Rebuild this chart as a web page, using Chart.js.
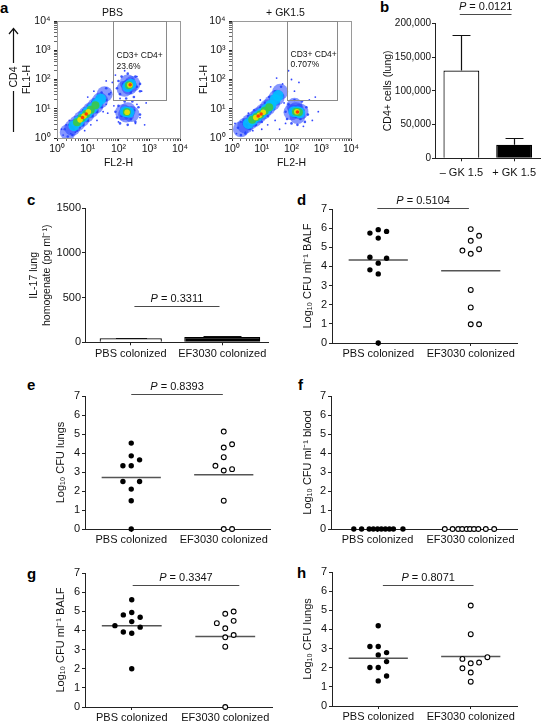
<!DOCTYPE html>
<html><head><meta charset="utf-8"><title>Figure</title>
<script src="https://cdn.jsdelivr.net/npm/chart.js@4.4.1/dist/chart.umd.min.js"></script>
<style>
html,body{margin:0;padding:0;background:#fff;}
body{width:541px;height:724px;position:relative;overflow:hidden;}
canvas{position:absolute;left:0;top:0;}
.lt{position:absolute;font-family:"Liberation Sans",Arial,sans-serif;font-weight:bold;font-size:15px;line-height:1;color:#000;}
</style></head><body>
<div class="lt" style="left:0px;top:0px">a</div>
<div class="lt" style="left:380px;top:-1px">b</div>
<div class="lt" style="left:27px;top:192px">c</div>
<div class="lt" style="left:297px;top:192px">d</div>
<div class="lt" style="left:27px;top:377px">e</div>
<div class="lt" style="left:298px;top:377px">f</div>
<div class="lt" style="left:27px;top:566px">g</div>
<div class="lt" style="left:297px;top:565px">h</div>
<canvas id="pa1" width="541" height="724"></canvas>
<canvas id="pa2" width="541" height="724"></canvas>
<canvas id="pb" width="541" height="724"></canvas>
<canvas id="pc" width="541" height="724"></canvas>
<canvas id="pd" width="541" height="724"></canvas>
<canvas id="pe" width="541" height="724"></canvas>
<canvas id="pf" width="541" height="724"></canvas>
<canvas id="pg" width="541" height="724"></canvas>
<canvas id="ph" width="541" height="724"></canvas>
<script>
// ================= DATA =================
// Panel a: flow cytometry (coordinates in log10 decades)
const flowTitles = ['PBS', '+ GK1.5'];
const flowTickLabels = ['10\u2070', '10\u00B9', '10\u00B2', '10\u00B3', '10\u2074'];
const gateName = 'CD3+ CD4+';
const gatePct = ['23.6%', '0.707%'];
const gateX0 = [66, 71];
const gateX1 = [3470, 3390];
const gateY0 = [20, 20];
const gateY1 = [10000, 10000];
const gateLabelY = [540, 600];

const pbsSparse = [[0.2,0.1],[0.3,0.45],[0.45,0.15],[0.6,0.2],[0.75,0.35],[0.4,0.6],[1.3,0.6],[1.6,1.15],[1.75,1.55],[1.8,1.9],[1.9,2.15],[2.6,2.1],[2.75,1.6],[2.7,0.7],[2.55,0.5],[2.0,0.55],[1.85,1.1],[1.65,0.85],[2.9,1.2],[1.2,1.6],[0.9,0.25],[1.1,0.45],[2.05,1.35],[2.6,1.15],[0.15,0.3],[1.0,1.4],[1.5,0.9],[2.85,0.45],[2.2,2.3],[1.6,1.95]];
const pbsEdge = [[0.25,0.3],[0.35,0.05],[0.5,0.1],[0.55,0.6],[0.65,0.25],[0.7,0.75],[0.85,0.45],[0.85,0.95],[1.0,0.6],[1.0,1.1],[1.15,0.75],[1.15,1.25],[1.3,0.9],[1.3,1.4],[1.45,1.05],[1.45,1.55],[1.6,1.3],[1.6,1.7],[1.7,1.5],[0.4,0.45],[0.6,0.4],[0.9,0.6],[1.2,1.3],[1.35,1.45],
  [1.95,1.7],[2.0,1.95],[2.1,2.1],[2.3,2.2],[2.55,2.1],[2.7,1.85],[2.7,1.6],[2.5,1.4],[2.25,1.35],[2.05,1.5],[2.6,1.75],[2.15,1.85],[2.45,2.0],[2.4,1.55],
  [1.9,0.9],[1.95,0.7],[2.05,0.5],[2.3,0.45],[2.55,0.55],[2.7,0.8],[2.65,1.05],[2.45,1.25],[2.2,1.25],[2.0,1.1],[2.5,0.95],[2.1,0.75],[2.4,0.65]];
const pbsBlue = [[0.35,0.2],[0.5,0.35],[0.65,0.5],[0.8,0.65],[0.95,0.8],[1.1,0.95],[1.25,1.1],[1.4,1.28],[1.55,1.5],[2.2,1.68],[2.35,1.75],[2.45,1.85],[2.3,1.9],[2.15,0.88],[2.3,0.95],[2.42,0.82],[2.25,0.8]];
const pbsCyan = [[0.55,0.42],[0.7,0.56],[0.85,0.72],[1.0,0.88],[1.15,1.02],[1.3,1.18],[1.42,1.33],[2.3,1.76],[2.4,1.84],[2.22,0.9],[2.34,0.88]];
const pbsGreen = [[0.65,0.54],[0.8,0.68],[0.95,0.82],[1.1,0.97],[1.25,1.12],[2.34,1.8],[2.27,0.89]];
const pbsYellow = [[0.75,0.62],[0.88,0.75],[1.02,0.9],[2.37,1.81],[2.28,0.88]];
const pbsRed = [[0.83,0.7],[0.95,0.82],[2.38,1.82]];

const gkSparse = [[0.15,0.15],[0.3,0.55],[0.45,0.2],[0.7,0.25],[0.55,0.85],[1.2,0.45],[1.45,0.6],[1.7,1.85],[1.9,2.3],[1.5,2.05],[2.1,1.6],[2.6,1.3],[2.7,0.6],[2.4,0.4],[1.8,0.5],[2.9,0.9],[1.3,1.75],[2.25,1.9],[0.95,1.3],[1.0,0.3],[1.75,1.2],[0.1,0.5],[2.8,1.4],[1.6,0.3],[2.0,2.0]];
const gkEdge = [[0.2,0.35],[0.3,0.1],[0.45,0.15],[0.4,0.6],[0.6,0.3],[0.55,0.75],[0.8,0.45],[0.75,0.95],[1.0,0.55],[0.95,1.05],[1.2,0.75],[1.1,1.2],[1.4,1.0],[1.25,1.4],[1.55,1.2],[1.45,1.6],[1.7,1.45],[1.65,1.75],[0.5,0.45],[0.9,0.6],[1.3,0.9],[1.1,1.05],
  [1.8,0.9],[1.85,0.65],[2.0,0.5],[2.2,0.45],[2.45,0.55],[2.55,0.8],[2.5,1.05],[2.35,1.25],[2.1,1.3],[1.9,1.15],[2.4,0.95],[2.05,0.75],[2.3,0.65]];
const gkBlue = [[0.3,0.3],[0.45,0.42],[0.6,0.55],[0.75,0.65],[0.9,0.78],[1.05,0.9],[1.2,1.05],[1.35,1.2],[1.5,1.38],[1.62,1.58],[2.0,0.88],[2.15,0.95],[2.3,0.9],[2.2,0.75],[2.1,1.1]];
const gkCyan = [[0.55,0.5],[0.7,0.62],[0.85,0.74],[1.0,0.85],[1.15,0.98],[1.3,1.12],[1.45,1.32],[1.55,1.45],[2.08,0.9],[2.2,0.9],[2.28,0.86]];
const gkGreen = [[0.68,0.62],[0.82,0.72],[0.95,0.8],[1.1,0.93],[1.25,1.05],[2.15,0.9],[2.25,0.88]];
const gkYellow = [[0.8,0.7],[0.92,0.78],[1.05,0.88],[2.18,0.9]];
const gkRed = [[0.88,0.75],[0.98,0.82],[2.2,0.89]];

// Panel b
const bCategories = ['\u2013 GK 1.5', '+ GK 1.5'];
const bMeans = [130000, 20000];
const bErrors = [52000, 10000];

// Panel c
const cCategories = ['PBS colonized', 'EF3030 colonized'];
const cMeans = [45, 60];
const cErrors = [5, 10];

// Dot panels d-h (group slot = horizontal jitter column)
const groups = ['PBS colonized', 'EF3030 colonized'];
const dPbs = [5.74, 5.92, 5.83, 5.48, 4.48, 4.43, 4.17, 3.82, 3.61, 0.0];
const dPbsSlot = [-1, 0, 1, 0, -1, 1, 0, -1, 0, 0];
const dEf = [5.95, 5.6, 5.34, 4.83, 4.9, 4.66, 2.77, 1.86, 0.98, 0.98];
const dEfSlot = [0, 1, 0, -1, 1, 0, 0, 0, 0, 1];
const dMedians = [4.34, 3.78];

const ePbs = [4.52, 3.85, 3.64, 3.33, 3.33, 2.5, 2.5, 2.1, 1.49, 0];
const ePbsSlot = [0, 0, 1, -1, 0, -1, 1, 0, 0, 0];
const eEf = [5.13, 4.29, 4.46, 3.78, 3.33, 3.08, 3.15, 1.49, 0, 0];
const eEfSlot = [0, 0, 1, 0, -1, 0, 1, 0, 0, 1];
const eMedians = [2.71, 2.85];

const fPbs = [0, 0, 0, 0, 0, 0, 0, 0, 0, 0];
const fPbsSlot = [-2.83, -1.9, -0.99, -0.5, 0, 0.46, 0.94, 1.42, 1.9, 3.04];
const fEf = [0, 0, 0, 0, 0, 0, 0, 0, 0, 0];
const fEfSlot = [-3.07, -2.14, -1.47, -0.99, -0.46, -0.06, 0.42, 0.94, 1.83, 2.83];

const gPbs = [5.6, 4.81, 4.94, 4.69, 4.46, 4.25, 4.17, 3.92, 3.85, 2.0];
const gPbsSlot = [0, -1, 0, 1, 0, -2, 1, -1, 0, 0];
const gEf = [4.87, 4.99, 4.38, 4.5, 4.11, 3.64, 3.76, 3.15, 0];
const gEfSlot = [0, 1, -1, 1, 0, 0, 1, 0, 0];
const gMedians = [4.25, 3.68];

const hPbs = [4.19, 3.11, 3.11, 2.79, 2.67, 2.32, 2.01, 2.01, 1.57, 1.31];
const hPbsSlot = [0, -1, 0, 1, 0, 1, -1, 0, 1, 0];
const hEf = [5.25, 3.75, 2.46, 2.55, 2.23, 2.27, 1.97, 1.75, 1.27];
const hEfSlot = [0, 0, -1, 2, 0, 1, -1, 0, 0];
const hMedians = [2.5, 2.58];

// P-value brackets (panels b, c, d, e, g, h)
const pLabels = ['0.0121', '0.3311', '0.5104', '0.8393', '0.3347', '0.8071'];
const pLevels = [214000, 406, 7.07, 7.1, 6.37, 6.31];
const pFrom = [-0.03, 0.04, 0.99, 1.0, 1.01, 1.05];
const pTo = [0.95, 0.97, 1.98, 1.99, 2.15, 2.03];

// ================= STYLE / HELPERS =================
const FONT = '"Liberation Sans", Arial, Helvetica, sans-serif';
const PW = 541, PH = 724;
const JIT = 0.09;     // jitter column width (x units)
const MED = 0.32;     // half width of median bar (x units)
Chart.defaults.font.family = FONT;
Chart.defaults.color = '#111';
Chart.defaults.animation = false;
Chart.defaults.events = [];
Chart.defaults.plugins.legend.display = false;
Chart.defaults.plugins.tooltip.enabled = false;

const DECO = {};

function drawP(ctx, chart, i) {
  const xs = chart.scales.x, ys = chart.scales.y;
  const x0 = xs.getPixelForValue(pFrom[i]), x1 = xs.getPixelForValue(pTo[i]);
  const y = Math.round(ys.getPixelForValue(pLevels[i])) + 0.5;
  ctx.strokeStyle = '#4a4a4a'; ctx.lineWidth = 1.2;
  ctx.beginPath(); ctx.moveTo(x0, y); ctx.lineTo(x1, y); ctx.stroke();
  const fs = 11;
  const fI = 'italic ' + fs + 'px ' + FONT, fN = fs + 'px ' + FONT;
  ctx.font = fI; const wP = ctx.measureText('P').width;
  const rest = ' = ' + pLabels[i];
  ctx.font = fN; const wR = ctx.measureText(rest).width;
  const sx = (x0 + x1) / 2 - (wP + wR) / 2, by = y - 4.5;
  ctx.fillStyle = '#111'; ctx.textAlign = 'left'; ctx.textBaseline = 'alphabetic';
  ctx.font = fI; ctx.fillText('P', sx, by);
  ctx.font = fN; ctx.fillText(rest, sx + wP, by);
}

const decoPlugin = {
  id: 'deco',
  beforeDatasetsDraw(chart) {
    const d = DECO[chart.canvas.id]; if (!d) return;
    const ctx = chart.ctx, a = chart.chartArea;
    if (d.frame) {
      ctx.save(); ctx.strokeStyle = d.frame; ctx.lineWidth = 1;
      ctx.strokeRect(Math.round(a.left) + 0.5, Math.round(a.top) + 0.5, Math.round(a.right - a.left), Math.round(a.bottom - a.top));
      ctx.restore();
    }
  },
  afterDatasetsDraw(chart) {
    const d = DECO[chart.canvas.id]; if (!d) return;
    const ctx = chart.ctx, a = chart.chartArea, xs = chart.scales.x, ys = chart.scales.y;
    ctx.save();
    if (d.gate !== undefined) {
      const k = d.gate;
      const x0 = Math.round(xs.getPixelForValue(gateX0[k])) + 0.5, x1 = Math.round(xs.getPixelForValue(gateX1[k])) + 0.5;
      const y0 = Math.round(ys.getPixelForValue(gateY0[k])) + 0.5, y1 = Math.round(ys.getPixelForValue(gateY1[k])) + 0.5;
      ctx.strokeStyle = '#8a8a8a'; ctx.lineWidth = 1;
      ctx.strokeRect(x0, y1, x1 - x0, y0 - y1);
      ctx.font = '8.5px ' + FONT; ctx.fillStyle = '#111'; ctx.textAlign = 'left'; ctx.textBaseline = 'alphabetic';
      const ty = ys.getPixelForValue(gateLabelY[k]);
      ctx.fillText(gateName, x0 + 3, ty);
      ctx.fillText(gatePct[k], x0 + 3, ty + 10.5);
      ctx.font = '10.5px ' + FONT; ctx.textAlign = 'center';
      ctx.fillText(flowTitles[k], (a.left + a.right) / 2 - 6, a.top - 4.7);
    }
    if (d.arrow) {
      ctx.strokeStyle = '#111'; ctx.lineWidth = 1.2;
      ctx.beginPath();
      ctx.moveTo(13.5, 29); ctx.lineTo(13.5, 63);
      ctx.moveTo(13.5, 91); ctx.lineTo(13.5, 132);
      ctx.moveTo(9, 34); ctx.lineTo(13.5, 28.5); ctx.lineTo(18, 34);
      ctx.stroke();
      ctx.translate(14, 77); ctx.rotate(-Math.PI / 2);
      ctx.font = '10.5px ' + FONT; ctx.fillStyle = '#111'; ctx.textAlign = 'center'; ctx.textBaseline = 'middle';
      ctx.fillText('CD4', 0, 0);
      ctx.setTransform(1, 0, 0, 1, 0, 0);
    }
    if (d.errors) {
      d.errors.forEach((errs, di) => {
        const meta = chart.getDatasetMeta(di);
        meta.data.forEach((bar, j) => {
          const v = chart.data.datasets[di].data[j], e = errs[j];
          if (v == null || e == null) return;
          const yt = Math.round(ys.getPixelForValue(v + e)) + 0.5;
          const cw = bar.width * 0.5, bx = Math.round(bar.x) + 0.5;
          ctx.strokeStyle = '#111'; ctx.lineWidth = 1.2;
          ctx.beginPath(); ctx.moveTo(bx, bar.y); ctx.lineTo(bx, yt);
          ctx.moveTo(bx - cw / 2, yt); ctx.lineTo(bx + cw / 2, yt); ctx.stroke();
        });
      });
    }
    if (d.p !== undefined) drawP(ctx, chart, d.p);
    ctx.restore();
  }
};
Chart.register(decoPlugin);

function geo(L, T, R, B, titleX, lh, xH) {
  const padL = titleX - lh / 2;
  return { padding: { left: padL, top: T, right: PW - R, bottom: PH - B - xH }, yW: L - padL, xH: xH };
}
const GRID = { display: true, drawOnChartArea: false, drawTicks: true, tickLength: 3, tickColor: '#222', tickWidth: 1, offset: false };
const BORDER = { display: true, color: '#222', width: 1 };

function yLin(g, min, max, step, title, tfs, fs, pad, fmt) {
  return {
    type: 'linear', min: min, max: max,
    afterFit: s => { s.width = g.yW; },
    ticks: { stepSize: step, font: { size: fs }, color: '#111', padding: pad, callback: fmt },
    grid: GRID, border: BORDER,
    title: { display: true, text: title, font: { size: tfs }, padding: 0, color: '#111' }
  };
}
function xCat(g, pad) {
  return {
    type: 'category', offset: true,
    afterFit: s => { s.height = g.xH; },
    ticks: { autoSkip: false, maxRotation: 0, font: { size: 11 }, color: '#111', padding: pad },
    grid: GRID, border: BORDER
  };
}
function xDots(g) {
  return {
    type: 'linear', min: 0.5, max: 2.5,
    afterFit: s => { s.height = g.xH; },
    afterBuildTicks: s => { s.ticks = [{ value: 1 }, { value: 2 }]; },
    ticks: { autoSkip: false, maxRotation: 0, font: { size: 11 }, color: '#111', padding: 1.2,
      callback: v => groups[Math.round(v) - 1] || '' },
    grid: GRID, border: BORDER
  };
}

const majorVals = [1, 10, 100, 1000, 10000];
const logTickValues = [];
for (let d = 0; d < 4; d++) for (let k = 1; k < 10; k++) logTickValues.push(k * majorVals[d]);
logTickValues.push(10000);

function logAxis(g, isX, title) {
  const o = {
    type: 'logarithmic', min: 1, max: 10000,
    afterBuildTicks: s => { s.ticks = logTickValues.map(v => ({ value: v, major: majorVals.includes(v) })); },
    ticks: { autoSkip: false, maxRotation: 0, font: { size: 10.5 }, color: '#111', padding: isX ? 1.5 : 3.5,
      callback: v => { const i = majorVals.indexOf(v); return i >= 0 ? flowTickLabels[i] : ''; } },
    grid: Object.assign({}, GRID, { tickWidth: c => (c.tick && c.tick.major) ? 1 : 0.7 }),
    border: BORDER,
    title: { display: true, text: title, font: { size: 10.5 }, padding: 0, color: '#111' }
  };
  if (isX) o.afterFit = s => { s.height = g.xH; }; else o.afterFit = s => { s.width = g.yW; };
  return o;
}

const FLOW_STYLE = [
  { r: 0.9, c: 'rgba(30,50,255,0.9)' },
  { r: 1.3, c: 'rgba(30,60,255,0.85)' },
  { r: 8, c: 'rgba(35,65,255,0.55)' },
  { r: 5.5, c: 'rgba(0,195,255,0.85)' },
  { r: 4, c: 'rgba(60,200,70,0.9)' },
  { r: 2.8, c: 'rgba(235,225,0,0.95)' },
  { r: 1.8, c: 'rgba(255,60,0,1)' }
];
function flowChart(id, g, layers, k, arrow) {
  const ds = layers.map((arr, i) => ({
    data: arr.map(p => ({ x: Math.pow(10, p[0]), y: Math.pow(10, p[1]) })),
    pointRadius: FLOW_STYLE[i].r, pointBackgroundColor: FLOW_STYLE[i].c, pointBorderWidth: 0
  })).reverse();
  DECO[id] = { frame: '#9a9a9a', gate: k, arrow: arrow };
  new Chart(document.getElementById(id), {
    type: 'scatter', data: { datasets: ds },
    options: { responsive: false, layout: { padding: g.padding },
      scales: { x: logAxis(g, true, 'FL2-H'), y: logAxis(g, false, 'FL1-H') } }
  });
}

function dotChart(id, g, yTitle, pbs, pbsSlot, ef, efSlot, medians, pIdx) {
  const ds = [
    { data: pbs.map((v, i) => ({ x: 1 + pbsSlot[i] * JIT, y: v })), pointRadius: 2.7,
      pointBackgroundColor: '#000', pointBorderColor: '#000', pointBorderWidth: 0, clip: false },
    { data: ef.map((v, i) => ({ x: 2 + efSlot[i] * JIT, y: v })), pointRadius: 2.4,
      pointBackgroundColor: '#fff', pointBorderColor: '#000', pointBorderWidth: 1.1, clip: false }
  ];
  if (medians) medians.forEach((m, k) => ds.push({
    data: [{ x: k + 1 - MED, y: m }, { x: k + 1 + MED, y: m }], showLine: true, pointRadius: 0,
    borderColor: '#555', borderWidth: 1.5, clip: false }));
  if (pIdx !== null) DECO[id] = { p: pIdx };
  new Chart(document.getElementById(id), {
    type: 'scatter', data: { datasets: ds },
    options: { responsive: false, layout: { padding: g.padding },
      scales: { x: xDots(g), y: yLin(g, 0, 7, 1, yTitle, 11, 11, 2, v => v) } }
  });
}

// ================= PANELS =================
flowChart('pa1', geo(57, 21, 180, 138, 27, 12.6, 31), [pbsSparse, pbsEdge, pbsBlue, pbsCyan, pbsGreen, pbsYellow, pbsRed], 0, true);
flowChart('pa2', geo(232, 21, 351, 138, 204, 12.6, 31), [gkSparse, gkEdge, gkBlue, gkCyan, gkGreen, gkYellow, gkRed], 1, false);

// b
(function () {
  const g = geo(435, 23.3, 541, 158.3, 388.5, 12.6, 22);
  DECO.pb = { errors: [bErrors], p: 0 };
  new Chart(document.getElementById('pb'), {
    type: 'bar',
    data: { labels: bCategories, datasets: [{ data: bMeans, backgroundColor: ['#fff', '#000'], borderColor: '#000',
      borderWidth: 1.2, barPercentage: 0.68, categoryPercentage: 1 }] },
    options: { responsive: false, layout: { padding: g.padding },
      scales: { x: xCat(g, 5), y: yLin(g, 0, 200000, 50000, 'CD4+ cells (lung)', 10.5, 10, 1, v => v.toLocaleString('en-US')) } }
  });
})();

// c
(function () {
  const g = geo(85, 208.3, 268, 342.3, 34.3, 12.6, 16);
  DECO.pc = { errors: [[cErrors[0], null], [null, cErrors[1]]], p: 1 };
  new Chart(document.getElementById('pc'), {
    type: 'bar',
    data: { labels: cCategories, datasets: [
      { data: [cMeans[0], null], backgroundColor: '#fff', borderColor: '#000', borderWidth: 1.2, barPercentage: 0.68, categoryPercentage: 1, grouped: false },
      { data: [null, cMeans[1]], backgroundColor: '#000', borderColor: '#000', borderWidth: 1.2, barPercentage: 0.83, categoryPercentage: 1, grouped: false }
    ] },
    options: { responsive: false, layout: { padding: g.padding },
      scales: { x: xCat(g, 2), y: yLin(g, 0, 1500, 500, ['IL-17 lung', 'homogenate (pg ml\u207B\u00B9)'], 10.5, 11, 1, v => v) } }
  });
})();

const T_BALF = 'Log\u2081\u2080 CFU ml\u207B\u00B9 BALF';
const T_LUNG = 'Log\u2081\u2080 CFU lungs';
const T_BLOOD = 'Log\u2081\u2080 CFU ml\u207B\u00B9 blood';
dotChart('pd', geo(332, 209, 517, 343, 308.3, 13.2, 16), T_BALF, dPbs, dPbsSlot, dEf, dEfSlot, dMedians, 2);
dotChart('pe', geo(85, 396, 270, 529, 60.5, 13.2, 16), T_LUNG, ePbs, ePbsSlot, eEf, eEfSlot, eMedians, 3);
dotChart('pf', geo(331, 396, 517, 529, 308.3, 13.2, 16), T_BLOOD, fPbs, fPbsSlot, fEf, fEfSlot, null, null);
dotChart('pg', geo(85, 573, 272, 707, 60.5, 13.2, 16), T_BALF, gPbs, gPbsSlot, gEf, gEfSlot, gMedians, 4);
dotChart('ph', geo(332, 572, 517, 706, 308.3, 13.2, 16), T_LUNG, hPbs, hPbsSlot, hEf, hEfSlot, hMedians, 5);
</script>
</body></html>
